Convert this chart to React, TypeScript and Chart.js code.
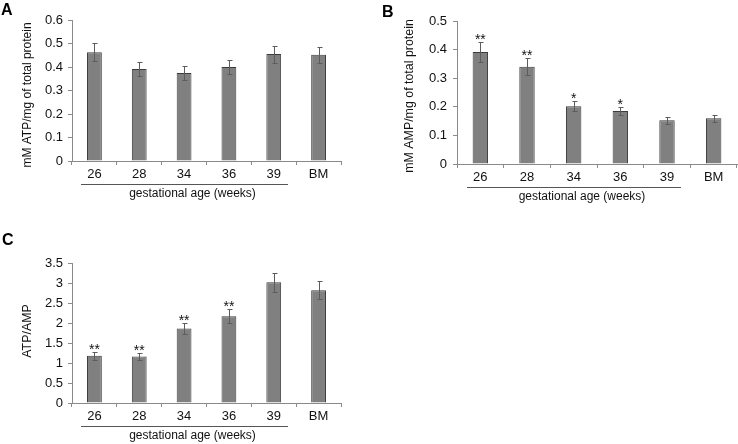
import React, { useEffect, useRef } from 'react';
import { Chart, registerables } from 'chart.js';

Chart.register(...registerables);

const FONT = '"Liberation Sans", Arial, Helvetica, sans-serif';

// ---- data ----
const categories = ['26', '28', '34', '36', '39', 'BM'];
const groupedCount = 5; // categories covered by "gestational age (weeks)"
const xTitle = 'gestational age (weeks)';

const atpValues = [0.463, 0.391, 0.374, 0.4, 0.455, 0.452];
const atpErrors = [0.039, 0.03, 0.03, 0.03, 0.036, 0.034];
const atpStars = ['', '', '', '', '', ''];

const ampValues = [0.392, 0.34, 0.202, 0.185, 0.153, 0.16];
const ampErrors = [0.034, 0.029, 0.017, 0.015, 0.013, 0.013];
const ampStars = ['**', '**', '*', '*', '', ''];

const ratioValues = [1.18, 1.16, 1.86, 2.17, 3.02, 2.82];
const ratioErrors = [0.1, 0.09, 0.14, 0.18, 0.24, 0.23];
const ratioStars = ['**', '**', '**', '**', '', ''];

type Spec = {
  letter: string;
  letterX: number;
  letterY: number;
  values: number[];
  errors: number[];
  stars: string[];
  yMax: number;
  yStep: number;
  yTitle: string;
  yTitleX: number;
  yTitleY: number;
  yTitleSize: number;
  left: number;
  top: number;
  w: number;
  h: number;
  area: { left: number; right: number; top: number; bottom: number };
  yTickPad: number;
};

const panels: Spec[] = [
  {
    letter: 'A', letterX: 1, letterY: 15,
    values: atpValues, errors: atpErrors, stars: atpStars,
    yMax: 0.6, yStep: 0.1, yTitle: 'mM ATP/mg of total protein',
    yTitleX: 28, yTitleY: 95, yTitleSize: 12,
    left: 0, top: 0, w: 369, h: 222,
    area: { left: 72, right: 341, top: 20, bottom: 161 },
    yTickPad: 5,
  },
  {
    letter: 'B', letterX: 13, letterY: 17,
    values: ampValues, errors: ampErrors, stars: ampStars,
    yMax: 0.5, yStep: 0.1, yTitle: 'mM AMP/mg of total protein',
    yTitleX: 41, yTitleY: 96, yTitleSize: 12.4,
    left: 369, top: 0, w: 369, h: 222,
    area: { left: 88, right: 368, top: 21, bottom: 164 },
    yTickPad: 6,
  },
  {
    letter: 'C', letterX: 2, letterY: 23,
    values: ratioValues, errors: ratioErrors, stars: ratioStars,
    yMax: 3.5, yStep: 0.5, yTitle: 'ATP/AMP',
    yTitleX: 28, yTitleY: 109, yTitleSize: 12.4,
    left: 0, top: 222, w: 369, h: 222,
    area: { left: 72, right: 341, top: 41, bottom: 181 },
    yTickPad: 5,
  },
];

function Panel({ spec }: { spec: Spec }) {
  const ref = useRef<HTMLCanvasElement | null>(null);

  useEffect(() => {
    const canvas = ref.current;
    if (!canvas) return;
    const { values, errors, stars, area, w, h } = spec;

    const overlay = {
      id: 'overlay',
      afterDatasetsDraw(chart: any) {
        const ctx = chart.ctx as CanvasRenderingContext2D;
        const y = chart.scales.y;
        const meta = chart.getDatasetMeta(0);
        ctx.save();
        ctx.strokeStyle = '#5c5c5c';
        ctx.lineWidth = 1;
        meta.data.forEach((bar: any, i: number) => {
          const x = Math.round(bar.x) + 0.5;
          const yTop = Math.round(y.getPixelForValue(values[i] + errors[i])) + 0.5;
          const yBot = Math.round(y.getPixelForValue(values[i] - errors[i])) + 0.5;
          ctx.beginPath();
          ctx.moveTo(x, yTop);
          ctx.lineTo(x, yBot);
          ctx.moveTo(x - 2, yTop);
          ctx.lineTo(x + 3, yTop);
          ctx.moveTo(x - 2, yBot);
          ctx.lineTo(x + 3, yBot);
          ctx.stroke();
          if (stars[i]) {
            ctx.fillStyle = '#111';
            ctx.font = `14px ${FONT}`;
            ctx.textAlign = 'center';
            ctx.textBaseline = 'alphabetic';
            ctx.fillText(stars[i], bar.x, yTop + 1);
          }
        });
        ctx.restore();
      },
      afterDraw(chart: any) {
        const ctx = chart.ctx as CanvasRenderingContext2D;
        const xs = chart.scales.x;
        const ca = chart.chartArea;
        ctx.save();
        // panel letter
        ctx.fillStyle = '#000';
        ctx.font = `bold 16px ${FONT}`;
        ctx.textAlign = 'left';
        ctx.textBaseline = 'alphabetic';
        ctx.fillText(spec.letter, spec.letterX, spec.letterY);
        // y title
        ctx.font = `${spec.yTitleSize}px ${FONT}`;
        ctx.fillStyle = '#111';
        ctx.translate(spec.yTitleX, spec.yTitleY);
        ctx.rotate(-Math.PI / 2);
        ctx.textAlign = 'center';
        ctx.textBaseline = 'middle';
        ctx.fillText(spec.yTitle, 0, 0);
        ctx.setTransform(1, 0, 0, 1, 0, 0);
        // underline across gestational-age categories
        const c0 = xs.getPixelForValue(0);
        const c4 = xs.getPixelForValue(groupedCount - 1);
        const lx0 = Math.round(c0 - 13);
        const lx1 = Math.round(c4 + 14);
        const ly = Math.round(ca.bottom + 23) + 0.5;
        ctx.strokeStyle = '#555';
        ctx.lineWidth = 1;
        ctx.beginPath();
        ctx.moveTo(lx0, ly);
        ctx.lineTo(lx1, ly);
        ctx.stroke();
        // x title
        ctx.fillStyle = '#111';
        ctx.font = `12px ${FONT}`;
        ctx.textAlign = 'center';
        ctx.textBaseline = 'middle';
        ctx.fillText(xTitle, (lx0 + lx1) / 2 + 8, ca.bottom + 33);
        ctx.restore();
      },
    };

    const chart = new Chart(canvas, {
      type: 'bar',
      data: {
        labels: categories,
        datasets: [
          {
            data: values,
            backgroundColor: '#808080',
            borderColor: '#3c3c3c',
            borderWidth: 1,
            barPercentage: 0.33,
            categoryPercentage: 1,
          },
        ],
      },
      options: {
        animation: false,
        responsive: false,
        devicePixelRatio: 1,
        layout: {
          padding: { left: 0, top: area.top, right: w - area.right, bottom: 0 },
        },
        plugins: {
          legend: { display: false },
          tooltip: { enabled: false },
        },
        scales: {
          x: {
            grid: {
              display: true,
              drawOnChartArea: false,
              drawTicks: true,
              tickLength: 4,
              color: '#8a8a8a',
            },
            border: { display: true, color: '#8a8a8a' },
            ticks: {
              color: '#111',
              font: { size: 13, family: FONT },
              padding: 2,
              maxRotation: 0,
            },
            afterFit: (s: any) => {
              s.height = h - area.bottom;
            },
          },
          y: {
            min: 0,
            max: spec.yMax,
            grid: {
              display: true,
              drawOnChartArea: false,
              drawTicks: true,
              tickLength: 4,
              color: '#8a8a8a',
            },
            border: { display: true, color: '#8a8a8a' },
            ticks: {
              stepSize: spec.yStep,
              color: '#111',
              font: { size: 13, family: FONT },
              padding: spec.yTickPad,
              callback: (v: any) => String(Math.round(Number(v) * 10) / 10),
            },
            afterFit: (s: any) => {
              s.width = area.left;
            },
          },
        },
      },
      plugins: [overlay],
    });
    return () => chart.destroy();
  }, [spec]);

  return (
    <canvas
      ref={ref}
      width={spec.w}
      height={spec.h}
      style={{ position: 'absolute', left: spec.left, top: spec.top, width: spec.w, height: spec.h }}
    />
  );
}

export default function App() {
  return (
    <div style={{ position: 'absolute', left: 0, top: 0, width: 738, height: 444, background: '#fff' }}>
      {panels.map((p) => (
        <Panel key={p.letter} spec={p} />
      ))}
    </div>
  );
}
